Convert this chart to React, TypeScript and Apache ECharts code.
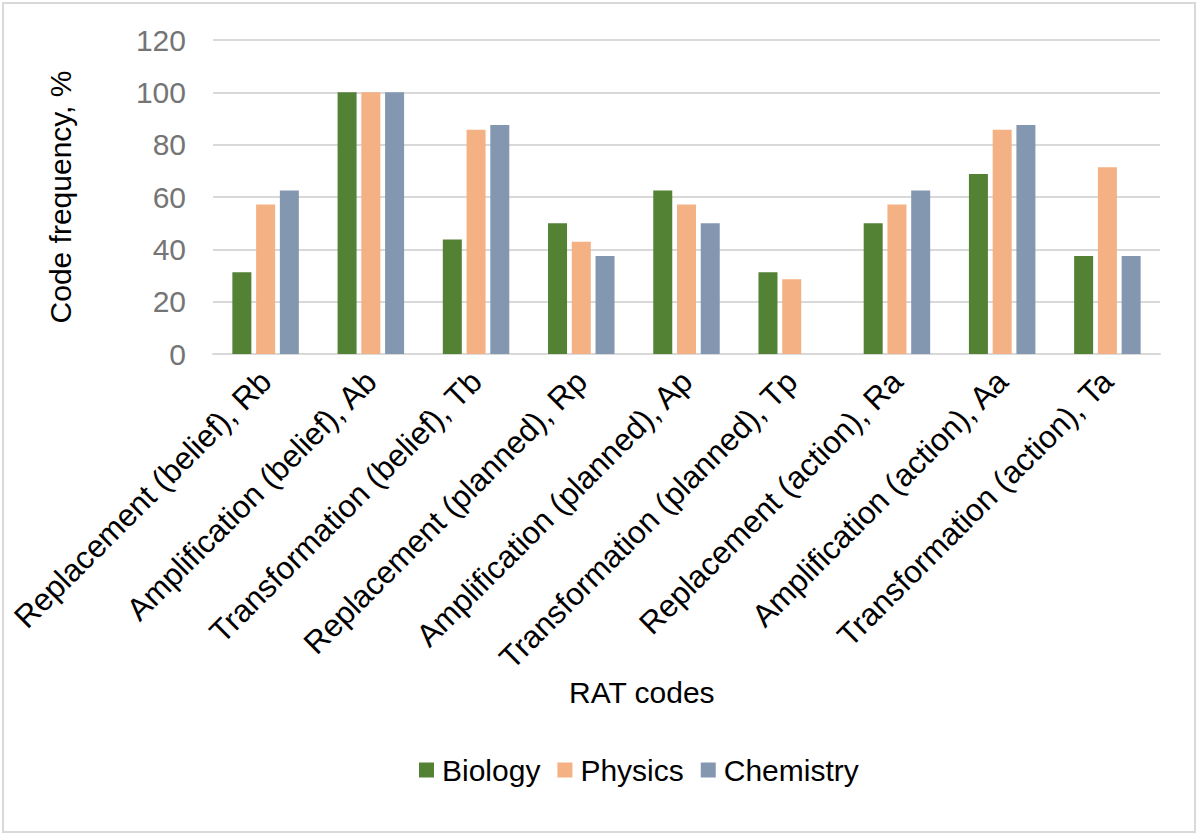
import React, { useEffect, useRef } from "react";
import * as echarts from "echarts";

const categories = [
  "Replacement (belief), Rb",
  "Amplification (belief), Ab",
  "Transformation (belief), Tb",
  "Replacement (planned), Rp",
  "Amplification (planned), Ap",
  "Transformation (planned), Tp",
  "Replacement (action), Ra",
  "Amplification (action), Aa",
  "Transformation (action), Ta",
];
const biology = [31.25, 100, 43.75, 50, 62.5, 31.25, 50, 68.75, 37.5];
const physics = [57.1, 100, 85.7, 42.9, 57.1, 28.6, 57.1, 85.7, 71.4];
const chemistry = [62.5, 100, 87.5, 37.5, 50, 0, 62.5, 87.5, 37.5];
const seriesNames = ["Biology", "Physics", "Chemistry"];
const colors = ["#548235", "#F4B183", "#8497B0"];

const FONT = "Liberation Sans, Arial, sans-serif";

export default function App() {
  const ref = useRef<HTMLDivElement>(null);
  useEffect(() => {
    document.body.style.margin = "0";
    const chart = echarts.init(ref.current!, null, { renderer: "svg" });
    const data = [biology, physics, chemistry];
    chart.setOption({
      animation: false,
      backgroundColor: "#ffffff",
      textStyle: { fontFamily: FONT },
      grid: { left: 213, right: 40, top: 40, bottom: 484, containLabel: false },
      legend: {
        left: 414,
        top: 750,
        itemWidth: 15,
        itemHeight: 15,
        itemGap: 17,
        icon: "rect",
        textStyle: { fontSize: 30, color: "#000000", fontFamily: FONT, padding: [0, 0, 0, 3] },
        data: seriesNames,
      },
      xAxis: {
        type: "category",
        data: categories,
        axisLine: { lineStyle: { color: "#d9d9d9", width: 2 } },
        axisTick: { show: false },
        axisLabel: {
          rotate: 45,
          interval: 0,
          fontSize: 31.5,
          color: "#000000",
          margin: 22,
          fontFamily: FONT,
        },
      },
      yAxis: {
        type: "value",
        min: 0,
        max: 120,
        interval: 20,
        axisLine: { show: false },
        axisTick: { show: false },
        axisLabel: { fontSize: 30, color: "#757575", margin: 27, fontFamily: FONT },
        splitLine: { lineStyle: { color: "#d9d9d9", width: 2 } },
      },
      graphic: [
        {
          type: "rect",
          shape: { x: 3, y: 3, width: 1192, height: 829 },
          style: { fill: "none", stroke: "#d9d9d9", lineWidth: 2 },
          silent: true,
        },
        {
          type: "text",
          x: 60,
          y: 197,
          rotation: Math.PI / 2,
          style: {
            text: "Code frequency, %",
            fontSize: 30,
            fill: "#000000",
            fontFamily: FONT,
            align: "center",
            verticalAlign: "middle",
          },
        },
        {
          type: "text",
          left: 569,
          top: 677,
          style: { text: "RAT codes", fontSize: 30, fill: "#000000", fontFamily: FONT },
        },
      ],
      series: seriesNames.map((n, i) => ({
        name: n,
        type: "bar",
        data: data[i],
        barWidth: 19,
        barGap: "25%",
        itemStyle: { color: colors[i] },
      })),
    });
    return () => chart.dispose();
  }, []);
  return <div ref={ref} style={{ width: 1200, height: 838 }} />;
}
